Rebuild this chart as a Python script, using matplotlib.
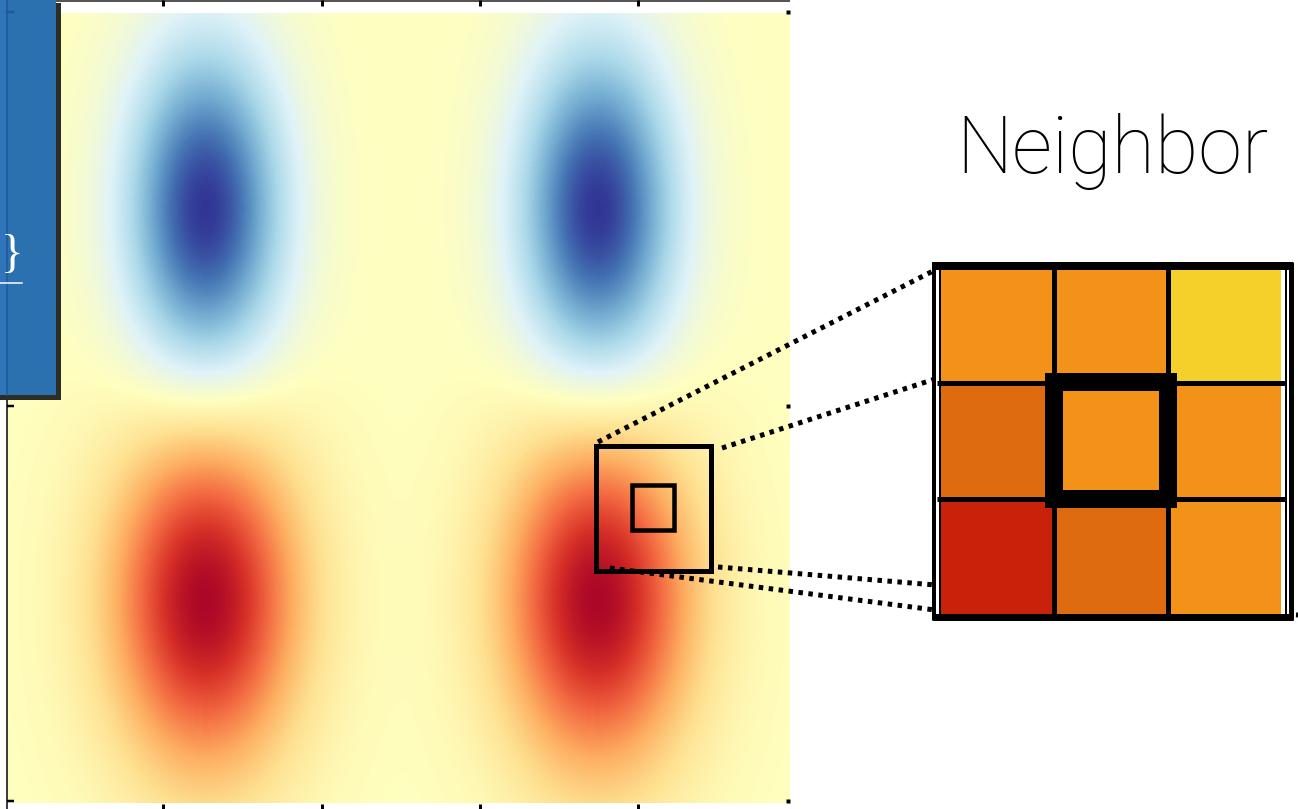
import numpy as np
import matplotlib
matplotlib.use("Agg")
import matplotlib.pyplot as plt
from matplotlib.patches import Rectangle
from matplotlib.colors import to_rgb

# ---------------- data ----------------
# heat-map field: four smooth blobs (centres / amplitudes / widths in field units)
blob_x = [197, 590, 197, 590]
blob_y = [197, 197, 587, 587]
blob_amp = [-1.0, -1.0, 0.97, 0.97]
blob_sx = [76, 76, 93, 93]
blob_sy = [160, 160, 168, 168]
field_w, field_h = 782, 790

# 3x3 neighbour cells (row-major, top row first)
neighbor_colors = [
    ["#F39219", "#F39219", "#F5D02A"],
    ["#DE6B10", "#F39219", "#F39219"],
    ["#C8230A", "#DE6B10", "#F39219"],
]
title_text = "Neighbor"
brace_text = "}"

# ---------------- layout helpers ----------------
W, H = 1298, 809
PX = 72 / 100.0  # points per pixel


def frect(x0, y0, x1, y1):
    return [x0 / W, 1 - y1 / H, (x1 - x0) / W, (y1 - y0) / H]


fig = plt.figure(figsize=(W / 100, H / 100), dpi=100)
fig.patch.set_facecolor("white")

# ---------------- heat map ----------------
hm = fig.add_axes(frect(8, 13, 790, 803), zorder=0)
xs = np.linspace(0, field_w, 500)
ys = np.linspace(0, field_h, 500)
X, Y = np.meshgrid(xs, ys)
Z = np.zeros_like(X)
for cx, cy, a, sx, sy in zip(blob_x, blob_y, blob_amp, blob_sx, blob_sy):
    Z += a * np.exp(-((X - cx) / sx) ** 2 - ((Y - cy) / sy) ** 2)
hm.imshow(Z, cmap="RdYlBu_r", vmin=-1, vmax=1, extent=[0, field_w, field_h, 0],
          aspect="auto", interpolation="bilinear")
hm.set_axis_off()

# ---------------- overlay (under the grid) ----------------
ob = fig.add_axes([0, 0, 1, 1], zorder=1)
ob.set_xlim(0, W)
ob.set_ylim(H, 0)
ob.set_axis_off()
ob.patch.set_alpha(0)

# zoom boxes on the heat map
ob.add_patch(Rectangle((595.5, 445.5), 115, 125, fill=False, ec="black", lw=5 * PX, zorder=3))
ob.add_patch(Rectangle((632, 485), 42, 45, fill=False, ec="black", lw=4.5 * PX, zorder=3))

# dotted connector lines
dot = dict(color="black", lw=5 * PX, linestyle=(0, (0.9, 1.1)), zorder=4)
ob.plot([598, 935], [442, 270], **dot)
ob.plot([722, 935], [448, 379], **dot)
ob.plot([718, 1298], [567, 615], **dot)
ob.plot([610, 935], [568, 610], **dot)

# white backing of the neighbour panel
ob.add_patch(Rectangle((932, 262), 361, 358, fc="white", ec="none", zorder=5))

# ---------------- neighbour grid ----------------
ga = fig.add_axes(frect(941, 266, 1281, 615), zorder=2)
rgb = np.array([[to_rgb(c) for c in row] for row in neighbor_colors])
ga.imshow(rgb, extent=[-0.5, 2.5, 2.5, -0.5], aspect="auto", interpolation="nearest")
for b in (0.5, 1.5):
    ga.axvline(b, color="black", lw=5 * PX)
ga.add_patch(Rectangle((0.5, 0.5), 1, 1, fill=False, ec="black", lw=18 * PX, clip_on=False))
ga.set_xlim(-0.5, 2.5)
ga.set_ylim(2.5, -0.5)
ga.set_axis_off()

# ---------------- overlay (top) ----------------
ot = fig.add_axes([0, 0, 1, 1], zorder=3)
ot.set_xlim(0, W)
ot.set_ylim(H, 0)
ot.set_axis_off()
ot.patch.set_alpha(0)

# neighbour panel frame
for y in (382.5, 499):
    ot.plot([937, 1286], [y, y], color="black", lw=5 * PX, solid_capstyle="butt")
ot.plot([932, 1293], [266, 266], color="black", lw=8 * PX, solid_capstyle="butt")
ot.plot([932, 1293], [616.5, 616.5], color="black", lw=7 * PX, solid_capstyle="butt")
ot.plot([934, 934], [262, 620], color="black", lw=4 * PX, solid_capstyle="butt")
ot.plot([940, 940], [262, 620], color="black", lw=2 * PX, solid_capstyle="butt")
ot.plot([1286, 1286], [262, 620], color="black", lw=2 * PX, solid_capstyle="butt")
ot.plot([1290.5, 1290.5], [262, 620], color="black", lw=5 * PX, solid_capstyle="butt")

# title
ot.text(1112, 173, title_text, fontsize=57, family=["Roboto", "DejaVu Sans"],
        fontweight="light", ha="center", va="baseline", color="black")

# frame remnants of the cropped chart
ot.plot([0, 790], [0.8, 0.8], color="#555555", lw=2 * PX, solid_capstyle="butt")
ot.plot([7, 7], [0, H], color="black", lw=1.5 * PX, solid_capstyle="butt")
for tx in (163, 322, 480, 638):
    ot.plot([tx, tx], [0, 6], color="black", lw=3 * PX, solid_capstyle="butt")
    ot.plot([tx, tx], [804, 809], color="black", lw=3 * PX, solid_capstyle="butt")
for ty in (12, 406, 801):
    ot.plot([7, 14], [ty, ty], color="black", lw=2.5 * PX, solid_capstyle="butt")
    ot.plot([788], [ty], marker="s", ms=4 * PX, color="black", mec="none")

# blue box on the left with shadow
ot.add_patch(Rectangle((0, 3), 61, 397, fc="#2d2d28", ec="none", zorder=5))
ot.add_patch(Rectangle((0, 0), 56, 395, fc="#2B70AF", ec="none", zorder=6))
ot.add_patch(Rectangle((0, 0), 7, 395, fc="#2E75BA", ec="none", zorder=6))
ot.plot([7, 7], [0, 395], color="#1D5A98", lw=1.5 * PX, zorder=7)
ot.plot([7, 13], [12, 12], color="#1D5A98", lw=2.5 * PX, zorder=7)
ot.text(12, 256, brace_text, fontsize=34, family="Liberation Serif", color="white",
        ha="center", va="center", zorder=8)
ot.plot([0, 22], [283, 283], color="white", lw=1.5 * PX, zorder=8)

fig.savefig("out.png", dpi=100)
